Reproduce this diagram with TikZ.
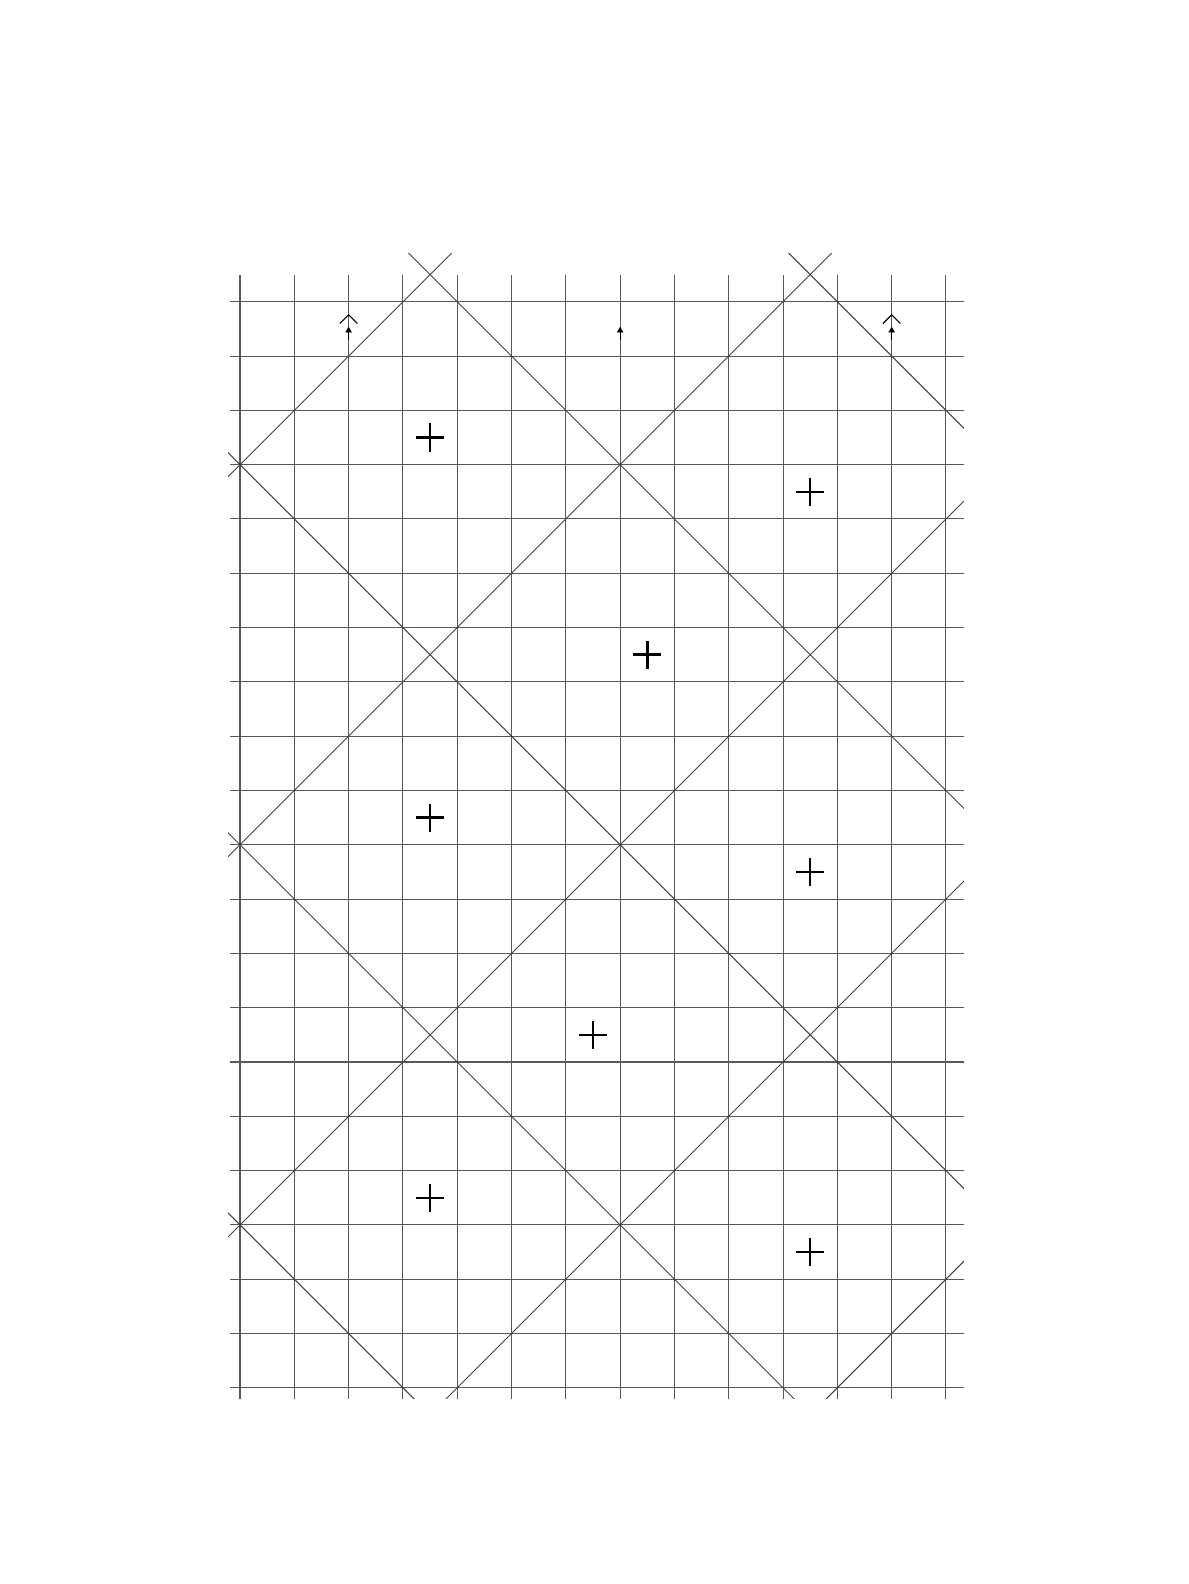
\documentclass[tikz,border=0pt]{standalone}
\usetikzlibrary{arrows.meta}
\begin{document}
\begin{tikzpicture}
[grid line/.style={line width=0.55pt,black!65},%
  diag line/.style={line width=0.5pt,black!75},%
  plus mark/.style={line width=1.3pt,black},%
  caret/.style={line width=0.6pt,black},%
  y=-1cm]
\useasboundingbox (-4.42,-5.557) rectangle (17.46,23.613);
% square grid
\foreach \i in {0,...,13}
  \draw[grid line] (\i,-0.5) -- (\i,20.2);
\foreach \j in {0,...,20}
  \draw[grid line] (-0.18,\j) -- (13.33,\j);
% diagonals
\begin{scope}
\clip (-0.22,-0.88) rectangle (13.33,20.2);
\foreach \c in {3,10,...,31}
  \draw[diag line] (\c+1,-1) -- (\c-21,21);
\foreach \c in {-17,-10,...,11}
  \draw[diag line] (\c-1,-1) -- (\c+21,21);
\end{scope}
% plus marks
\foreach \x/\y in {3.5/2.5,10.5/3.5,7.5/6.5,3.5/9.5,10.5/10.5,6.5/13.5,3.5/16.5,10.5/17.5}
  \draw[plus mark] (\x-0.26,\y) -- (\x+0.26,\y) (\x,\y-0.26) -- (\x,\y+0.26);
% arrows at the top
\foreach \x in {2,7,12}
  \draw[-{Triangle[length=3pt,width=3.4pt]},line width=0.4pt] (\x,0.7) -- (\x,0.46);
\foreach \x in {2,12}
  \draw[caret] (\x-0.16,0.40) -- (\x,0.24) -- (\x+0.16,0.40);
\end{tikzpicture}
\end{document}
